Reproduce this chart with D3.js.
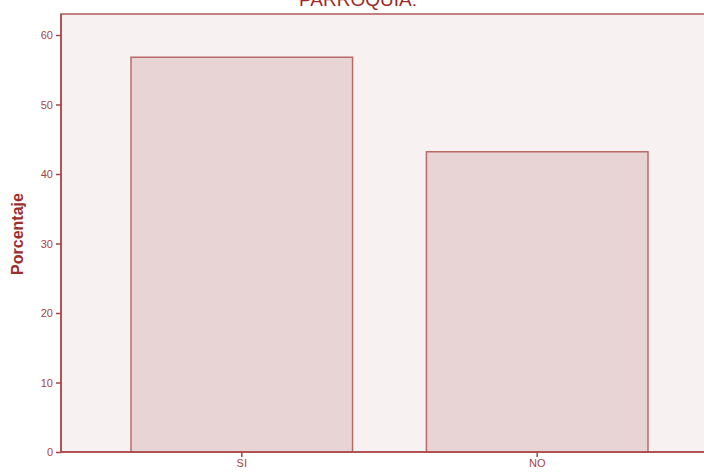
<!DOCTYPE html>
<html>
<head>
<meta charset="utf-8">
<script src="https://cdn.jsdelivr.net/npm/d3@7"></script>
<style>
  body { margin: 0; background: #fff; }
  svg { display: block; font-family: Arial, "Liberation Sans", sans-serif; }
</style>
</head>
<body>
<svg id="chart" width="704" height="473"></svg>
<script>
var categories = ['SI', 'NO'];
var values = [56.8, 43.2];
var yTicks = [0, 10, 20, 30, 40, 50, 60];

var width = 704, height = 473;
var plotLeft = 61, plotTop = 14, plotBottom = 452, plotRight = 718;

var svg = d3.select('#chart');

var x = d3.scaleBand()
    .domain(categories)
    .range([plotLeft, plotRight])
    .paddingInner(0.25)
    .paddingOuter(0.237);

var y = d3.scaleLinear().domain([0, 60]).range([plotBottom, 35]);

// plot background
svg.append('rect')
    .attr('x', plotLeft)
    .attr('y', plotTop)
    .attr('width', plotRight - plotLeft)
    .attr('height', plotBottom - plotTop)
    .style('fill', '#f7f1f1')
    .style('stroke', '#b35a5a')
    .style('stroke-width', 1.5);

// bars
svg.append('g')
    .selectAll('rect')
    .data(categories)
    .enter()
    .append('rect')
    .attr('x', function (d) { return x(d); })
    .attr('y', function (d, i) { return y(values[i]); })
    .attr('width', x.bandwidth())
    .attr('height', function (d, i) { return plotBottom - y(values[i]); })
    .style('fill', '#e8d4d4')
    .style('stroke', '#bb6a6a')
    .style('stroke-width', 1.5);

// y axis
var yAxis = svg.append('g')
    .attr('transform', 'translate(' + plotLeft + ',0)')
    .call(d3.axisLeft(y).tickValues(yTicks).tickSize(5).tickPadding(3));
yAxis.select('.domain').remove();

// x axis
var xAxis = svg.append('g')
    .attr('transform', 'translate(0,' + plotBottom + ')')
    .call(d3.axisBottom(x).tickSize(5).tickPadding(2));
xAxis.select('.domain').remove();

svg.selectAll('.tick line').style('stroke', '#a84444').style('stroke-width', 1.5);
svg.selectAll('.tick text').style('fill', '#a84444').style('font-size', '11px');

// frame lines over bars
svg.append('line')
    .attr('x1', plotLeft).attr('x2', plotLeft)
    .attr('y1', plotTop).attr('y2', plotBottom)
    .style('stroke', '#a84444').style('stroke-width', 1.5);
svg.append('line')
    .attr('x1', plotLeft).attr('x2', width)
    .attr('y1', plotBottom).attr('y2', plotBottom)
    .style('stroke', '#a84444').style('stroke-width', 1.5);

// title (clipped at top, as in the reference)
svg.append('text')
    .attr('x', 358)
    .attr('y', 6)
    .attr('text-anchor', 'middle')
    .style('font-size', '19px')
    .style('fill', '#a02828')
    .text('PARROQUIA:');

// y label
svg.append('text')
    .attr('transform', 'translate(23,234) rotate(-90)')
    .attr('text-anchor', 'middle')
    .style('font-size', '16px')
    .style('font-weight', 'bold')
    .style('fill', '#9c2e2e')
    .text('Porcentaje');
</script>
</body>
</html>
